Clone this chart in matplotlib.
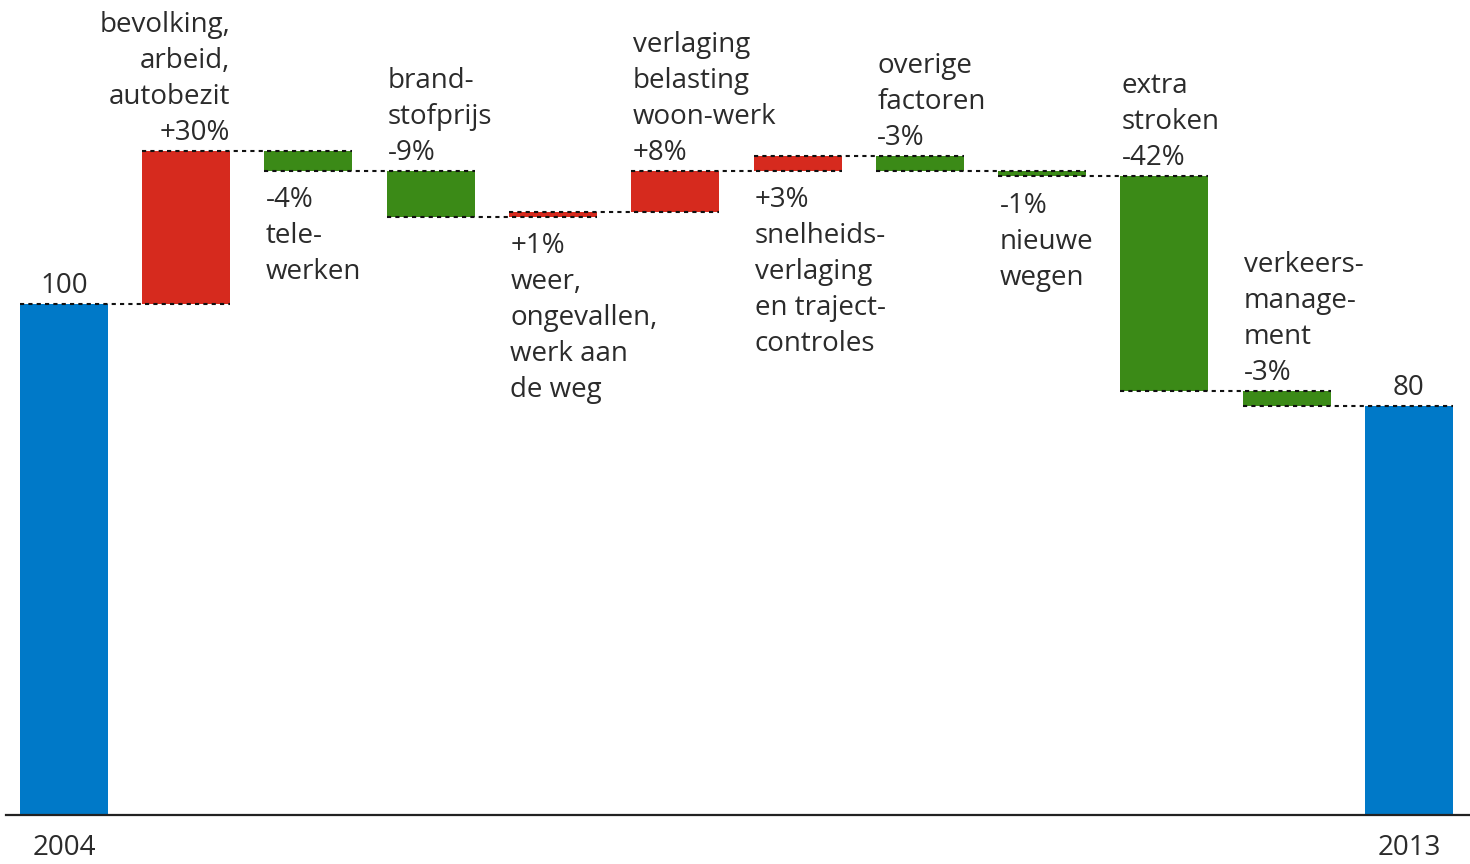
import numpy as np
import matplotlib.pyplot as plt

plt.rcParams['font.family'] = ['Open Sans', 'DejaVu Sans']

# waterfall data: start value, changes, end value
start = 100
changes = [30, -4, -9, 1, 8, 3, -3, -1, -42, -3]
end = 80
years = ['2004', '2013']
labels = ['bevolking,\narbeid,\nautobezit\n+30%',
          '-4%\ntele-\nwerken',
          'brand-\nstofprijs\n-9%',
          '+1%\nweer,\nongevallen,\nwerk aan\nde weg',
          'verlaging\nbelasting\nwoon-werk\n+8%',
          '+3%\nsnelheids-\nverlaging\nen traject-\ncontroles',
          'overige\nfactoren\n-3%',
          '-1%\nnieuwe\nwegen',
          'extra\nstroken\n-42%',
          'verkeers-\nmanage-\nment\n-3%']
# where the label sits: above or below the bar
label_pos = ['above', 'below', 'above', 'below', 'above', 'below',
             'above', 'below', 'above', 'above']

blue = '#0079C8'
red = '#D62A1E'
green = '#3B8A17'
txt = '#2b2b2b'
fs = 20
ls = 1.38

n = len(changes) + 2
x = np.arange(n)
w = 0.72

levels = [start]
for c in changes:
    levels.append(levels[-1] + c)
levels.append(end)

fig = plt.figure(figsize=(14.7, 8.64), dpi=100)
ax = fig.add_axes([0, 0, 1, 1])
ax.set_xlim(-0.523, 11.5)
ax.set_ylim(-9.6, 159.5)
ax.axis('off')

# totals
ax.bar([x[0], x[-1]], [start, end], width=w, color=blue, zorder=2)
ax.annotate(str(start), xy=(x[0], start), xytext=(0, 3), textcoords='offset points',
            ha='center', va='bottom', fontsize=fs, color=txt)
ax.annotate(str(end), xy=(x[-1], end), xytext=(0, 3), textcoords='offset points',
            ha='center', va='bottom', fontsize=fs, color=txt)

# deltas
for i, c in enumerate(changes):
    xi = x[i + 1]
    lo = min(levels[i], levels[i + 1])
    top = max(levels[i], levels[i + 1])
    ax.bar(xi, abs(c), bottom=lo, width=w, color=red if c > 0 else green, zorder=2)
    if label_pos[i] == 'above':
        if i == 0:
            ax.annotate(labels[i], xy=(xi + w / 2, top), xytext=(0, 3),
                        textcoords='offset points', ha='right', va='bottom',
                        multialignment='right', fontsize=fs, color=txt,
                        linespacing=ls)
        else:
            ax.annotate(labels[i], xy=(xi - w / 2, top), xytext=(1, 3),
                        textcoords='offset points', ha='left', va='bottom',
                        fontsize=fs, color=txt, linespacing=ls)
    else:
        ax.annotate(labels[i], xy=(xi - w / 2, lo), xytext=(1, -11),
                    textcoords='offset points', ha='left', va='top',
                    fontsize=fs, color=txt, linespacing=ls)

# dotted connectors
for i in range(n - 1):
    ax.plot([x[i] - w / 2, x[i + 1] + w / 2], [levels[i], levels[i]],
            color='#111111', linestyle=(0, (2, 2)), linewidth=1.5, zorder=3)

# baseline and years
ax.axhline(0, xmin=0.004, xmax=1, color='#222222', linewidth=1.6, zorder=4)
ax.annotate(years[0], xy=(x[0], 0), xytext=(0, -14), textcoords='offset points',
            ha='center', va='top', fontsize=fs, color=txt)
ax.annotate(years[1], xy=(x[-1], 0), xytext=(0, -14), textcoords='offset points',
            ha='center', va='top', fontsize=fs, color=txt)

fig.savefig('out.png', dpi=100)
